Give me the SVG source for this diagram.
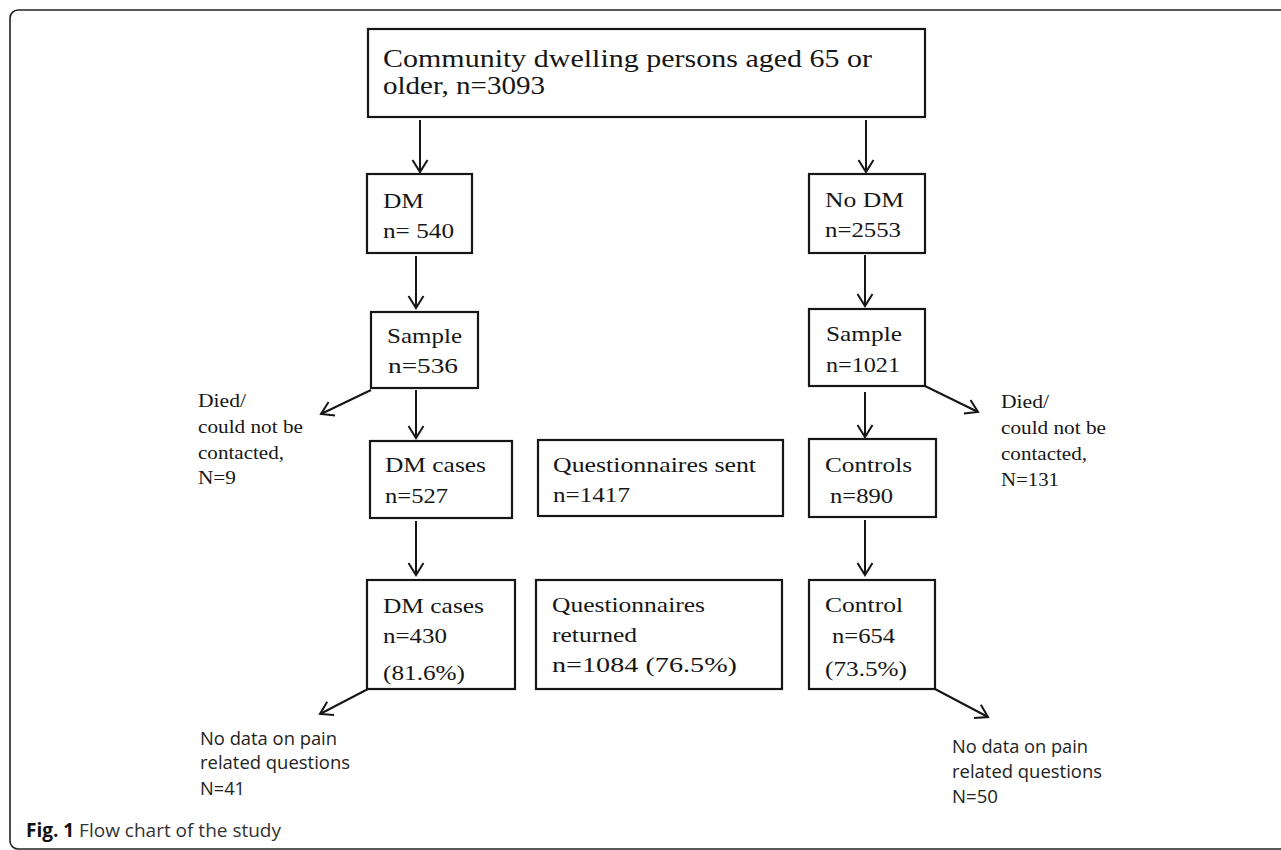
<svg xmlns="http://www.w3.org/2000/svg" width="1281" height="850" viewBox="0 0 1281 850">
<style>
.box{fill:#fff;stroke:#161616;stroke-width:2.2}
.t{font-family:"Liberation Serif","Times New Roman",serif;font-size:21px;fill:#161616}
.tt{font-family:"Liberation Serif","Times New Roman",serif;font-size:26px;fill:#161616}
.s{font-family:"Liberation Serif","Times New Roman",serif;font-size:18px;fill:#161616}
.ss{font-family:"Open Sans","Liberation Sans",sans-serif;font-size:17.5px;fill:#222}
.cap{font-family:"Open Sans","Liberation Sans",sans-serif;font-size:19px;fill:#333}
.c line{stroke:#161616;stroke-width:2;marker-end:url(#ah)}
</style>
<defs>
<marker id="ah" viewBox="-14 -10 16 20" markerWidth="16" markerHeight="20" refX="0" refY="0" orient="auto" markerUnits="userSpaceOnUse" overflow="visible">
<path d="M-12,-7.5 L0,0 L-12,7.5" fill="none" stroke="#161616" stroke-width="2"/>
</marker>
</defs>
<rect x="10" y="10" width="1300" height="839" rx="8" fill="#fff" stroke="#222" stroke-width="1.6"/>
<g id="top">
<rect class="box" x="368" y="29" width="557" height="88"/>
<text class="tt" x="383" y="67" textLength="489" lengthAdjust="spacingAndGlyphs">Community dwelling persons aged 65 or</text>
<text class="tt" x="383" y="94" textLength="162" lengthAdjust="spacingAndGlyphs">older, n=3093</text>
</g>
<g id="dm">
<rect class="box" x="367" y="174" width="105" height="79"/>
<text class="t" x="383" y="208" textLength="41" lengthAdjust="spacingAndGlyphs">DM</text>
<text class="t" x="383" y="238" textLength="71" lengthAdjust="spacingAndGlyphs">n= 540</text>
</g>
<g id="nodm">
<rect class="box" x="809" y="174" width="116" height="79"/>
<text class="t" x="825" y="207" textLength="79" lengthAdjust="spacingAndGlyphs">No DM</text>
<text class="t" x="825" y="237" textLength="76" lengthAdjust="spacingAndGlyphs">n=2553</text>
</g>
<g id="sampleL">
<rect class="box" x="371" y="312" width="107" height="76"/>
<text class="t" x="387" y="343" textLength="75" lengthAdjust="spacingAndGlyphs">Sample</text>
<text class="t" x="388" y="373" textLength="70" lengthAdjust="spacingAndGlyphs">n=536</text>
</g>
<g id="sampleR">
<rect class="box" x="809" y="309" width="116" height="77"/>
<text class="t" x="826" y="341" textLength="76" lengthAdjust="spacingAndGlyphs">Sample</text>
<text class="t" x="826" y="372" textLength="74" lengthAdjust="spacingAndGlyphs">n=1021</text>
</g>
<g id="dmcases">
<rect class="box" x="370" y="441" width="142" height="77"/>
<text class="t" x="385" y="472" textLength="101" lengthAdjust="spacingAndGlyphs">DM cases</text>
<text class="t" x="385" y="503" textLength="63" lengthAdjust="spacingAndGlyphs">n=527</text>
</g>
<g id="qsent">
<rect class="box" x="538" y="440" width="245" height="76"/>
<text class="t" x="553" y="472" textLength="203" lengthAdjust="spacingAndGlyphs">Questionnaires sent</text>
<text class="t" x="553" y="502" textLength="77" lengthAdjust="spacingAndGlyphs">n=1417</text>
</g>
<g id="controls">
<rect class="box" x="809" y="439" width="127" height="78"/>
<text class="t" x="825" y="472" textLength="87" lengthAdjust="spacingAndGlyphs">Controls</text>
<text class="t" x="830" y="503" textLength="63" lengthAdjust="spacingAndGlyphs">n=890</text>
</g>
<g id="dmcases2">
<rect class="box" x="367" y="580" width="148" height="109"/>
<text class="t" x="383" y="613" textLength="101" lengthAdjust="spacingAndGlyphs">DM cases</text>
<text class="t" x="383" y="643" textLength="64" lengthAdjust="spacingAndGlyphs">n=430</text>
<text class="t" x="383" y="680" textLength="82" lengthAdjust="spacingAndGlyphs">(81.6%)</text>
</g>
<g id="qreturned">
<rect class="box" x="536" y="580" width="246" height="109"/>
<text class="t" x="552" y="612" textLength="153" lengthAdjust="spacingAndGlyphs">Questionnaires</text>
<text class="t" x="552" y="642" textLength="85" lengthAdjust="spacingAndGlyphs">returned</text>
<text class="t" x="552" y="672" textLength="185" lengthAdjust="spacingAndGlyphs">n=1084 (76.5%)</text>
</g>
<g id="control">
<rect class="box" x="809" y="580" width="126" height="109"/>
<text class="t" x="825" y="612" textLength="78" lengthAdjust="spacingAndGlyphs">Control</text>
<text class="t" x="832" y="643" textLength="63" lengthAdjust="spacingAndGlyphs">n=654</text>
<text class="t" x="825" y="676" textLength="82" lengthAdjust="spacingAndGlyphs">(73.5%)</text>
</g>
<g id="diedL">
<text class="s" x="198" y="407" textLength="48" lengthAdjust="spacingAndGlyphs">Died/</text>
<text class="s" x="198" y="433" textLength="105" lengthAdjust="spacingAndGlyphs">could not be</text>
<text class="s" x="198" y="459" textLength="86" lengthAdjust="spacingAndGlyphs">contacted,</text>
<text class="s" x="198" y="484" textLength="38" lengthAdjust="spacingAndGlyphs">N=9</text>
</g>
<g id="diedR">
<text class="s" x="1001" y="408" textLength="48" lengthAdjust="spacingAndGlyphs">Died/</text>
<text class="s" x="1001" y="434" textLength="105" lengthAdjust="spacingAndGlyphs">could not be</text>
<text class="s" x="1001" y="460" textLength="86" lengthAdjust="spacingAndGlyphs">contacted,</text>
<text class="s" x="1001" y="486" textLength="58" lengthAdjust="spacingAndGlyphs">N=131</text>
</g>
<g id="nodataL">
<text class="ss" x="200" y="745" textLength="137" lengthAdjust="spacingAndGlyphs">No data on pain</text>
<text class="ss" x="200" y="769" textLength="150" lengthAdjust="spacingAndGlyphs">related questions</text>
<text class="ss" x="200" y="795" textLength="45" lengthAdjust="spacingAndGlyphs">N=41</text>
</g>
<g id="nodataR">
<text class="ss" x="952" y="753" textLength="136" lengthAdjust="spacingAndGlyphs">No data on pain</text>
<text class="ss" x="952" y="778" textLength="150" lengthAdjust="spacingAndGlyphs">related questions</text>
<text class="ss" x="952" y="803" textLength="46" lengthAdjust="spacingAndGlyphs">N=50</text>
</g>
<g class="c" id="connectors">
<line x1="420" y1="120" x2="420" y2="172"/>
<line x1="866" y1="120" x2="866" y2="172"/>
<line x1="416" y1="256" x2="416" y2="308"/>
<line x1="865" y1="255" x2="865" y2="306"/>
<line x1="416" y1="390" x2="416" y2="438"/>
<line x1="371" y1="390" x2="321" y2="414"/>
<line x1="865" y1="392" x2="865" y2="437"/>
<line x1="925" y1="386" x2="978" y2="412"/>
<line x1="416" y1="521" x2="416" y2="575"/>
<line x1="865" y1="520" x2="865" y2="575"/>
<line x1="368" y1="689" x2="320" y2="714"/>
<line x1="935" y1="689" x2="988" y2="717"/>
</g>
<text class="cap" x="26" y="837"><tspan font-weight="bold" fill="#111">Fig. 1</tspan> Flow chart of the study</text>
</svg>
